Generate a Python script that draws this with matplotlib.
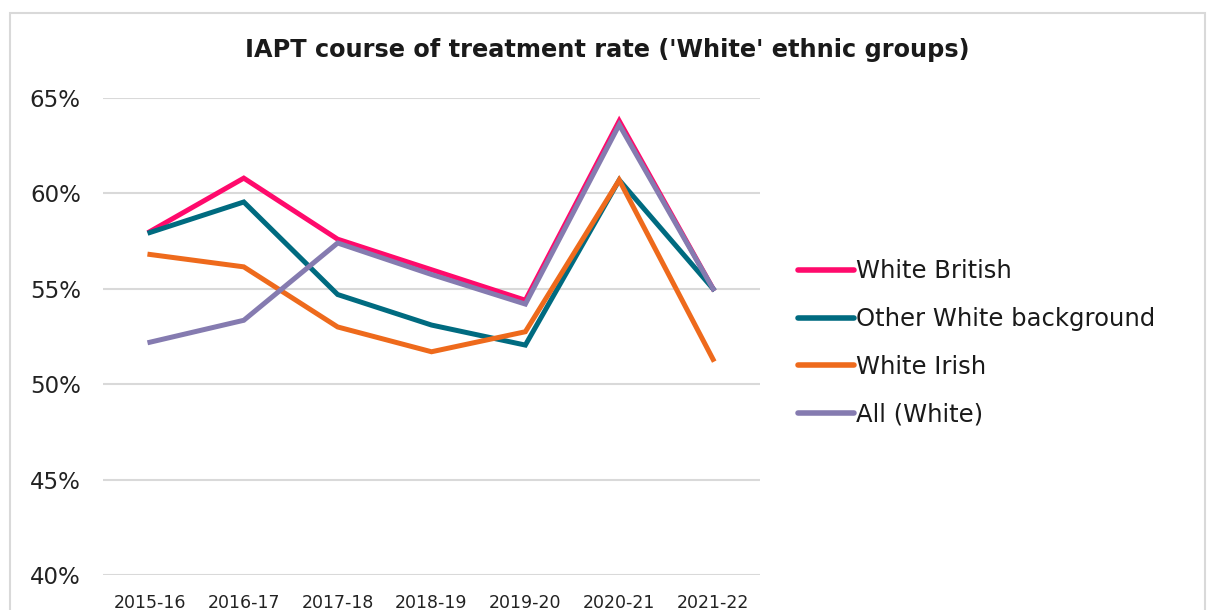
import matplotlib
matplotlib.use("Agg")
from matplotlib import pyplot as plt
from matplotlib.patches import Rectangle

years = ["2015-16", "2016-17", "2017-18", "2018-19", "2019-20", "2020-21", "2021-22"]
white_british = [58.0, 60.8, 57.6, 56.0, 54.4, 63.8, 55.0]
other_white = [57.95, 59.55, 54.7, 53.1, 52.05, 60.7, 55.0]
white_irish = [56.8, 56.15, 53.0, 51.7, 52.75, 60.7, 51.3]
all_white = [52.2, 53.35, 57.4, 55.75, 54.2, 63.6, 55.0]

series = [
    ("White British", white_british, "#FF0A6C"),
    ("Other White background", other_white, "#006B80"),
    ("White Irish", white_irish, "#EE6A1C"),
    ("All (White)", all_white, "#857BB0"),
]

plt.rcParams["font.family"] = ["DejaVu Sans"]
fig = plt.figure(figsize=(12.08, 6.10), dpi=100)
# 图表外框
fig.patches.append(Rectangle((10 / 1208, -0.1), 1195 / 1208, 1 - 13 / 610 + 0.1,
                             transform=fig.transFigure, fill=False,
                             edgecolor="#d9d9d9", linewidth=1.5))
ax = fig.add_axes([103 / 1208, 1 - 575 / 610, 657 / 1208, 477 / 610])

x = range(len(years))
for name, vals, col in series:
    ax.plot(x, vals, color=col, linewidth=3.6, label=name, solid_joinstyle="miter")

ax.set_xlim(-0.5, len(years) - 0.5)
ax.set_ylim(40, 65)
ax.set_yticks([40, 45, 50, 55, 60, 65])
ax.set_yticklabels(["%d%%" % v for v in [40, 45, 50, 55, 60, 65]])
ax.set_xticks(list(x))
ax.set_xticklabels(years)
ax.grid(axis="y", color="#d9d9d9", linewidth=1.5)
ax.set_axisbelow(True)
for s in ax.spines.values():
    s.set_visible(False)
ax.tick_params(axis="y", length=0, labelsize=16.5, pad=16, colors="#222222")
ax.tick_params(axis="x", length=0, labelsize=12.5, pad=14, colors="#222222")

fig.text(607 / 1208, 1 - 50 / 610, "IAPT course of treatment rate ('White' ethnic groups)",
         ha="center", va="center", fontsize=17.3, fontweight="bold", color="#1a1a1a")

leg = ax.legend(loc="center left", bbox_to_anchor=(776 / 1208, 1 - 343 / 610),
                bbox_transform=fig.transFigure, frameon=False, fontsize=17.5,
                handlelength=2.3, handletextpad=0.1, labelspacing=0.98)
for t in leg.get_texts():
    t.set_color("#1a1a1a")
for h in leg.get_lines():
    h.set_linewidth(4)
    h.set_solid_capstyle("round")

plt.savefig("out.png", dpi=100)
